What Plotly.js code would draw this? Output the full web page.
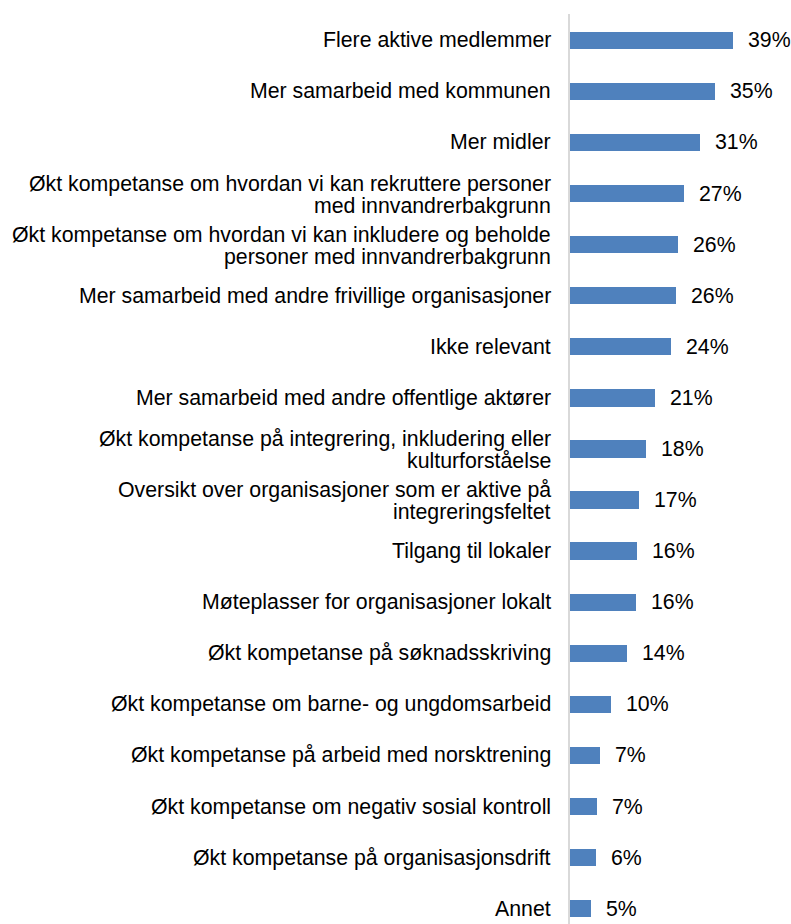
<!DOCTYPE html>
<html>
<head>
<meta charset="utf-8">
<script src="https://cdn.plot.ly/plotly-3.0.1.min.js"></script>
<style>html,body{margin:0;padding:0;background:#fff;}#chart{width:791px;height:924px;}</style>
</head>
<body>
<div id="chart"></div>
<script>
var categories = [
  "Flere aktive medlemmer",
  "Mer samarbeid med kommunen",
  "Mer midler",
  "Økt kompetanse om hvordan vi kan rekruttere personer<br>med innvandrerbakgrunn",
  "Økt kompetanse om hvordan vi kan inkludere og beholde<br>personer med innvandrerbakgrunn",
  "Mer samarbeid med andre frivillige organisasjoner",
  "Ikke relevant",
  "Mer samarbeid med andre offentlige aktører",
  "Økt kompetanse på integrering, inkludering eller<br>kulturforståelse",
  "Oversikt over organisasjoner som er aktive på<br>integreringsfeltet",
  "Tilgang til lokaler",
  "Møteplasser for organisasjoner lokalt",
  "Økt kompetanse på søknadsskriving",
  "Økt kompetanse om barne- og ungdomsarbeid",
  "Økt kompetanse på arbeid med norsktrening",
  "Økt kompetanse om negativ sosial kontroll",
  "Økt kompetanse på organisasjonsdrift",
  "Annet"
];
var values = [39.0, 34.8, 31.1, 27.4, 25.8, 25.5, 24.3, 20.5, 18.3, 16.5, 16.0, 15.8, 13.6, 9.8, 7.1, 6.4, 6.2, 5.0];
var valueLabels = ["39%", "35%", "31%", "27%", "26%", "26%", "24%", "21%", "18%", "17%", "16%", "16%", "14%", "10%", "7%", "7%", "6%", "5%"];

var FONT = "Liberation Sans, Arial, sans-serif";
var FS = 21.3;

var annotations = [];
categories.forEach(function (cat, i) {
  var lines = cat.split("<br>");
  var shifts = lines.length === 1 ? [0] : [10, -12];
  lines.forEach(function (ln, j) {
    annotations.push({
      xref: "paper", x: 0, xanchor: "right", xshift: -17,
      yref: "y", y: cat, yanchor: "middle", yshift: shifts[j],
      text: ln, showarrow: false, align: "right",
      font: {family: FONT, size: FS, color: "#000000"}
    });
  });
  annotations.push({
    xref: "x", x: values[i], xanchor: "left", xshift: 13,
    yref: "y", y: cat, yanchor: "middle",
    text: valueLabels[i], showarrow: false,
    font: {family: FONT, size: FS, color: "#000000"}
  });
});

var trace = {
  type: "bar",
  orientation: "h",
  x: values,
  y: categories,
  width: 0.34,
  marker: {color: "#4f81bd", line: {width: 0}},
  hoverinfo: "none"
};

var layout = {
  width: 791,
  height: 924,
  margin: {l: 570, r: 0, t: 14, b: 0, pad: 0},
  paper_bgcolor: "#ffffff",
  plot_bgcolor: "#ffffff",
  showlegend: false,
  bargap: 0,
  xaxis: {range: [0, 53.0], visible: false, showgrid: false, zeroline: false, fixedrange: true},
  yaxis: {
    type: "category",
    categoryorder: "array",
    categoryarray: categories,
    range: [17.30, -0.515],
    showticklabels: false,
    ticks: "",
    showgrid: false,
    zeroline: false,
    showline: true,
    linecolor: "#d9d9d9",
    linewidth: 2,
    fixedrange: true
  },
  annotations: annotations,
  font: {family: FONT, size: FS, color: "#000000"}
};

Plotly.newPlot("chart", [trace], layout, {displayModeBar: false, staticPlot: true});
</script>
</body>
</html>
